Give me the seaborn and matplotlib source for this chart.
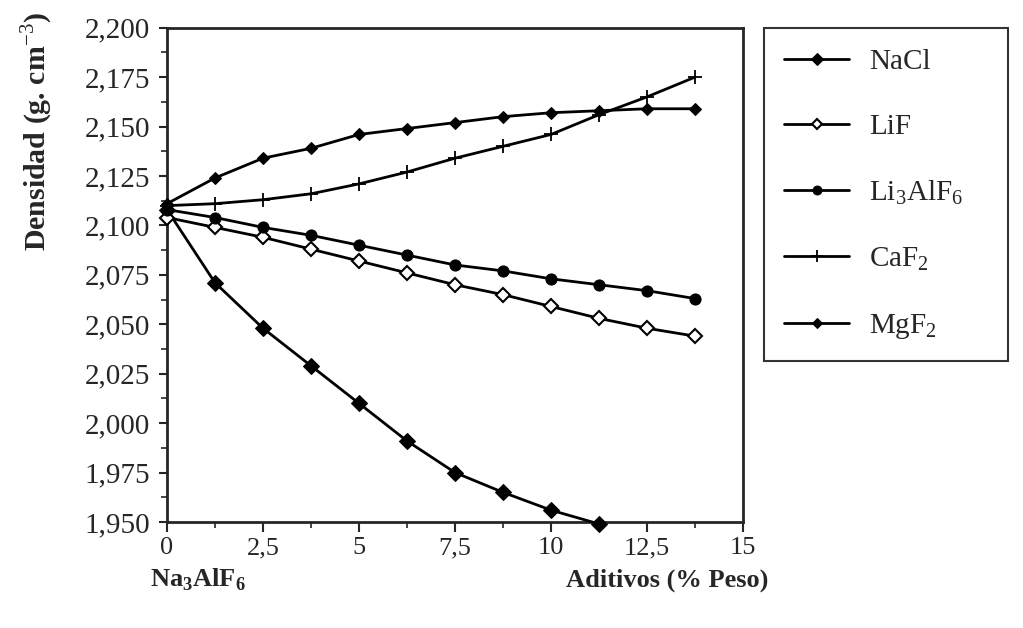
import numpy as np
import pandas as pd
import matplotlib
matplotlib.use("Agg")
import matplotlib.pyplot as plt
import seaborn as sns
from matplotlib.ticker import MultipleLocator, FuncFormatter

# Data
aditivo = [0, 1.25, 2.5, 3.75, 5, 6.25, 7.5, 8.75, 10, 11.25, 12.5, 13.75]
nacl = [2.108, 2.071, 2.048, 2.029, 2.010, 1.991, 1.975, 1.965, 1.956, 1.949]
lif = [2.104, 2.099, 2.094, 2.088, 2.082, 2.076, 2.070, 2.065, 2.059, 2.053, 2.048, 2.044]
li3alf6 = [2.108, 2.104, 2.099, 2.095, 2.090, 2.085, 2.080, 2.077, 2.073, 2.070, 2.067, 2.063]
caf2 = [2.110, 2.111, 2.113, 2.116, 2.121, 2.127, 2.134, 2.140, 2.146, 2.156, 2.165, 2.175]
mgf2 = [2.111, 2.124, 2.134, 2.139, 2.146, 2.149, 2.152, 2.155, 2.157, 2.158, 2.159, 2.159]

series = {
    "NaCl": nacl,
    "LiF": lif,
    "Li$_3$AlF$_6$": li3alf6,
    "CaF$_2$": caf2,
    "MgF$_2$": mgf2,
}
rows = []
for name, vals in series.items():
    for x, v in zip(aditivo, vals):
        rows.append({"x": x, "y": v, "serie": name})
df = pd.DataFrame(rows)

sns.set_style("ticks")
plt.rcParams["font.family"] = ["Liberation Serif", "DejaVu Serif"]
plt.rcParams["mathtext.fontset"] = "custom"
plt.rcParams["mathtext.rm"] = "Liberation Serif"
plt.rcParams["mathtext.bf"] = "Liberation Serif:bold"

fig = plt.figure(figsize=(10.23, 6.28), dpi=100)
ax = fig.add_axes([167 / 1023, 1 - 522 / 628, (743 - 167) / 1023, (522 - 27.7) / 628])

styles = {
    "NaCl": dict(marker="D", ms=8, mfc="black", mec="black"),
    "LiF": dict(marker="D", ms=7, mfc="white", mec="black", mew=1.5),
    "Li$_3$AlF$_6$": dict(marker="o", ms=8, mfc="black", mec="black"),
    "CaF$_2$": dict(marker="+", ms=10, mfc="black", mec="black", mew=1.3),
    "MgF$_2$": dict(marker="D", ms=6, mfc="black", mec="black"),
}

for name in series:
    sub = df[df["serie"] == name]
    sns.lineplot(data=sub, x="x", y="y", ax=ax, color="black", lw=2,
                 label=name, clip_on=False, zorder=3, **styles[name])

ax.set_xlim(0, 15)
ax.set_ylim(1.95, 2.2)
ax.xaxis.set_major_locator(MultipleLocator(2.5))
ax.xaxis.set_minor_locator(MultipleLocator(1.25))
ax.yaxis.set_major_locator(MultipleLocator(0.025))
ax.yaxis.set_minor_locator(MultipleLocator(0.0125))

def fx(v, p):
    return ("%g" % v).replace(".", ",")
def fy(v, p):
    return ("%.3f" % v).replace(".", ",")
ax.xaxis.set_major_formatter(FuncFormatter(fx))
ax.yaxis.set_major_formatter(FuncFormatter(fy))
ax.tick_params(axis="x", which="major", labelsize=19, length=7, width=1.5, direction="out", pad=4)
ax.tick_params(axis="y", which="major", labelsize=21, length=6, width=1.5, direction="out", pad=6)
ax.tick_params(axis="both", which="minor", length=4, width=1.2, direction="out")
for s in ax.spines.values():
    s.set_linewidth(2)
    s.set_visible(True)

ax.set_xlabel("")
ax.set_ylabel("Densidad (g. cm$^{-3}$)", fontsize=21.5, fontweight="bold")
ax.yaxis.set_label_coords(-0.194, 0.79)

fig.text(150 / 1023, 1 - 580 / 628, "Na$_\\mathbf{3}$AlF$_\\mathbf{6}$", fontsize=19,
         fontweight="bold", ha="left", va="center")
fig.text(768 / 1023, 1 - 580 / 628, "Aditivos (% Peso)", fontsize=19,
         fontweight="bold", ha="right", va="center")

handles, labels = ax.get_legend_handles_labels()
ax.get_legend().remove()
x0 = 764 / 1023
x1 = 1008 / 1023
ytop = 1 - 28 / 628
leg = fig.legend(handles, labels, loc="upper left", mode="expand",
                 bbox_to_anchor=(x0, ytop - 0.5, x1 - x0, 0.5), frameon=True,
                 fontsize=21, handlelength=2.2, labelspacing=1.32,
                 borderpad=0.7, handletextpad=0.7, fancybox=False,
                 borderaxespad=0, markerscale=0.8)
leg.get_frame().set_edgecolor("black")
leg.get_frame().set_linewidth(1.5)

fig.savefig("out.png", dpi=100)
